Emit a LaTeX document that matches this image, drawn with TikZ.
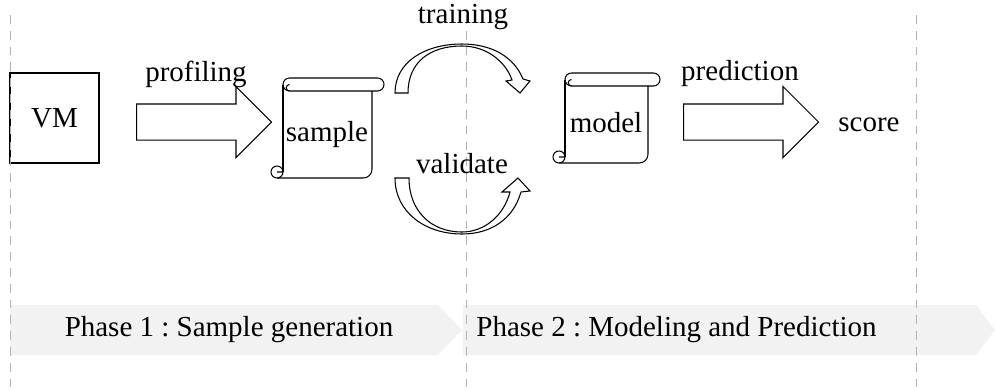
\documentclass[tikz,border=0pt]{standalone}
\usepackage{fontspec}
\setmainfont{Liberation Serif}
\usepackage{xcolor}
\usepackage{tikz}
\usetikzlibrary{arrows.meta,positioning,shapes.arrows,calc}
\frenchspacing
\tikzset{
  lbl/.style={font=\fontsize{16.5}{19}\selectfont,inner sep=0pt},
  vmbox/.style={draw,line width=0.6pt,minimum width=1.78cm,minimum height=1.8cm,font=\fontsize{16.5}{19}\selectfont},
  bigarr/.style={single arrow,draw,line width=0.6pt,anchor=tail,minimum height=2.7cm,inner xsep=0pt,inner ysep=0.35cm,
    single arrow head extend=0.35cm,single arrow tip angle=90,single arrow head indent=0pt},
  curvarr/.style={draw,fill=white,line width=0.6pt,line join=miter},
  scrl/.style={draw,line width=0.6pt},
  guide/.style={draw=black!30,dashed,dash pattern=on 5pt off 4pt,line width=0.5pt},
  phase/.style={fill=black!5},
}
% scroll outline: left, top, right, bottom (pixels, y downwards)
\newcommand{\scrollat}[4]{
  \draw[scrl] (#1+6.5,-#2) -- (#3+5.5,-#2) arc[start angle=90,end angle=-90,radius=6.5]
    -- (#1+6.5,-#2-13) arc[start angle=270,end angle=90,radius=6.5];
  \draw[scrl] (#1+6.5,-#2-6.5) arc[start angle=90,end angle=270,radius=3.25];
  \draw[scrl] (#1,-#2-6.5) -- (#1,-#4+6);
  \draw[scrl] (#3,-#2-13) {[rounded corners=5pt] -- (#3,-#4)} -- (#1-6,-#4);
  \draw[scrl] (#1-6,-#4+6) circle[radius=6] (#1-6,-#4+6) -- (#1,-#4+6);
}

\begin{document}
\begin{tikzpicture}[x=0.02cm,y=0.02cm]
\useasboundingbox (0,0) rectangle (995,-390);

% phase banners
\path[phase] (10,-305) -- (438,-305) -- (462,-330) -- (438,-355) -- (10,-355) -- cycle;
\path[phase] (463,-305) -- (976,-305) -- (995,-330) -- (976,-355) -- (463,-355) -- cycle;
\node[lbl] (ph1) at (229,-329.5) {Phase 1 : Sample generation};
\node[lbl] (ph2) at (676.5,-329.5) {Phase 2 : Modeling and Prediction};

% phase 1
\node[vmbox,fill=white] (vm) at (54.5,-118) {VM};

% guides
\foreach \x in {10,466,916} \draw[guide] (\x,-15) -- (\x,-390);

\node[bigarr] (prof) at (136,-122) {};
\node[lbl] (profl) at (196,-74) {profiling};
\scrollat{283}{78}{372}{178}
\node[lbl] (sample) at (327,-134.5) {sample};

% training / validate
\draw[curvarr] (395,-93) -- (408,-93) .. controls (408,-62) and (430,-46) .. (462,-46)
  .. controls (485,-46) and (505,-60) .. (512,-80) -- (506,-81) -- (520,-93) -- (530,-81) -- (523,-79)
  .. controls (514,-57) and (492,-44) .. (462,-44) .. controls (425,-44) and (395,-62) .. (395,-93) -- cycle;
\draw[curvarr] (395,-178) -- (409,-178) .. controls (409,-210) and (430,-232) .. (462,-232)
  .. controls (485,-232) and (504,-215) .. (510,-192) -- (502,-192) -- (518,-178) -- (530,-191) -- (521,-192)
  .. controls (513,-220) and (490,-234) .. (462,-234) .. controls (425,-234) and (395,-212) .. (395,-178) -- cycle;
\node[lbl] (train) at (463,-17) {training};
\node[lbl] (valid) at (462,-164) {validate};

% phase 2
\scrollat{565}{73}{648}{163}
\node[lbl] (model) at (606,-122.5) {model};
\node[bigarr] (pred) at (683,-122) {};
\node[lbl] (predl) at (740,-74) {prediction};
\node[lbl] (score) at (869,-125) {score};
\end{tikzpicture}
\end{document}
